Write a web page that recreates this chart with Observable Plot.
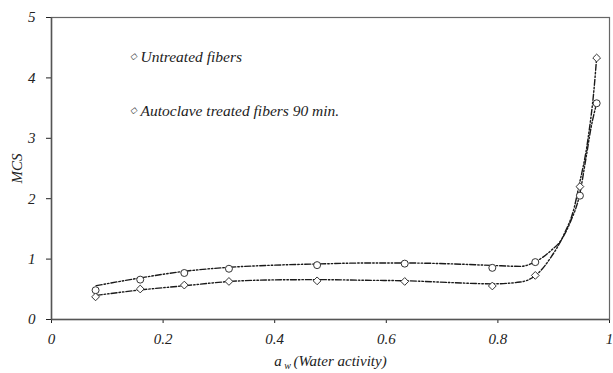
<!DOCTYPE html>
<html>
<head>
<meta charset="utf-8">
<script src="https://cdn.jsdelivr.net/npm/d3@7"></script>
<script src="https://cdn.jsdelivr.net/npm/@observablehq/plot@0.6"></script>
<style>
  html, body { margin: 0; padding: 0; background: #fff; }
</style>
</head>
<body>
<div id="chart"></div>
<script>
// Measured points: water activity (a_w) and MCS
const awPoints = [0.079, 0.159, 0.238, 0.318, 0.476, 0.633, 0.790, 0.867, 0.947, 0.977];
const untreated = [0.485, 0.66, 0.77, 0.84, 0.90, 0.925, 0.855, 0.95, 2.05, 3.58];
const autoclave = [0.375, 0.505, 0.57, 0.63, 0.64, 0.63, 0.555, 0.73, 2.20, 4.33];

// Fitted curves
const fitUntreatedX = [0.08, 0.16, 0.24, 0.32, 0.40, 0.48, 0.56, 0.64, 0.72, 0.79, 0.84, 0.866, 0.895, 0.913, 0.931, 0.946, 0.958, 0.967, 0.977];
const fitUntreatedY = [0.56, 0.69, 0.80, 0.865, 0.90, 0.92, 0.935, 0.935, 0.92, 0.895, 0.88, 0.95, 1.14, 1.31, 1.64, 2.05, 2.68, 3.18, 3.58];
const fitAutoclaveX = [0.08, 0.16, 0.24, 0.32, 0.40, 0.48, 0.56, 0.64, 0.72, 0.79, 0.84, 0.869, 0.895, 0.919, 0.937, 0.945, 0.961, 0.973, 0.977];
const fitAutoclaveY = [0.40, 0.49, 0.56, 0.63, 0.656, 0.66, 0.65, 0.64, 0.61, 0.59, 0.62, 0.74, 1.03, 1.42, 1.86, 2.20, 2.96, 3.89, 4.34];

const xTicks = [0, 0.2, 0.4, 0.6, 0.8, 1];
const yTicks = [0, 1, 2, 3, 4, 5];
const legendLabels = ["Untreated fibers", "Autoclave treated fibers 90 min."];

const ptsU = awPoints.map((x, i) => ({x, y: untreated[i]}));
const ptsA = awPoints.map((x, i) => ({x, y: autoclave[i]}));
const fitU = fitUntreatedX.map((x, i) => ({x, y: fitUntreatedY[i]}));
const fitA = fitAutoclaveX.map((x, i) => ({x, y: fitAutoclaveY[i]}));

const dash = "6,2,1.5,2,1.5,2";
const fmt = d3.format("~g");

const chart = Plot.plot({
  width: 613,
  height: 373,
  marginLeft: 51,
  marginRight: 4,
  marginTop: 17,
  marginBottom: 54,
  style: {fontFamily: "'Liberation Serif', serif", fontStyle: "italic", fontSize: "15px", color: "#222", background: "#fff"},
  x: {domain: [0, 1], ticks: xTicks, tickFormat: fmt, tickSize: 4, tickPadding: 10, label: "a w (Water activity)", labelAnchor: "center", labelOffset: 46},
  y: {domain: [0, 5], ticks: yTicks, tickFormat: fmt, tickSize: 5, tickPadding: 11, label: "MCS", labelAnchor: "center", labelOffset: 40},
  marks: [
    Plot.frame({stroke: "#666", strokeWidth: 1.2}),
    Plot.ruleX([0], {stroke: "#555", strokeWidth: 1.5}),
    Plot.ruleY([0], {stroke: "#555", strokeWidth: 1.5}),
    Plot.line(fitU, {x: "x", y: "y", curve: "monotone-x", stroke: "#1a1a1a", strokeWidth: 1.4, strokeDasharray: dash}),
    Plot.line(fitA, {x: "x", y: "y", curve: "monotone-x", stroke: "#1a1a1a", strokeWidth: 1.4, strokeDasharray: dash}),
    Plot.dot(ptsU, {x: "x", y: "y", symbol: "circle", r: 3.5, stroke: "#333", fill: "white", strokeWidth: 1}),
    Plot.dot(ptsA, {x: "x", y: "y", symbol: "diamond2", r: 3.5, stroke: "#333", fill: "white", strokeWidth: 1}),
    Plot.text(["\u25C7"], {text: d => d, frameAnchor: "top-left", dx: 82, dy: 35, textAnchor: "middle", fill: "#333", fontSize: 9}),
    Plot.text(["\u25C7"], {text: d => d, frameAnchor: "top-left", dx: 82, dy: 89, textAnchor: "middle", fill: "#333", fontSize: 9}),
    Plot.text([legendLabels[0]], {text: d => d, frameAnchor: "top-left", dx: 89, dy: 33, textAnchor: "start", fill: "#222", fontSize: 15.5}),
    Plot.text([legendLabels[1]], {text: d => d, frameAnchor: "top-left", dx: 89, dy: 87, textAnchor: "start", fill: "#222", fontSize: 15.5})
  ]
});

document.getElementById("chart").appendChild(chart);

// Remove axis-label arrows and make "w" a subscript in the x-axis label
const svg = d3.select(chart);
svg.selectAll("text").each(function() {
  const t = d3.select(this);
  const s = t.text();
  if (s.includes("Water activity")) {
    t.text(null);
    t.append("tspan").text("a");
    t.append("tspan").attr("font-size", "10px").attr("dy", "3").text(" w ");
    t.append("tspan").attr("dy", "-3").text("(Water activity)");
  } else if (s.includes("MCS")) {
    t.text("MCS");
  }
});
</script>
</body>
</html>
